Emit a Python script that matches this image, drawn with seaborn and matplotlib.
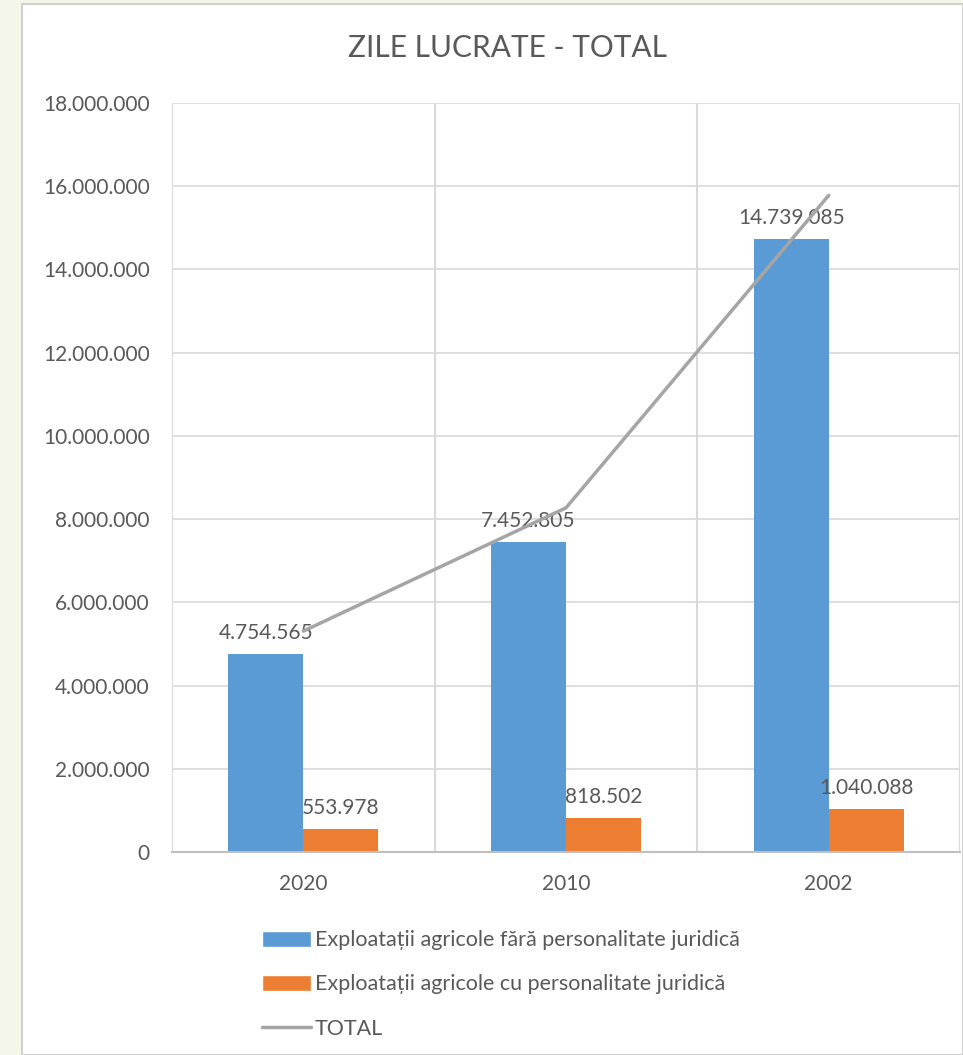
import matplotlib.pyplot as plt
import matplotlib.ticker as mticker
from matplotlib.patches import Rectangle, Patch
from matplotlib.lines import Line2D
import pandas as pd
import seaborn as sns

# data
ani = ['2020', '2010', '2002']
fara_pj = [4754565, 7452805, 14739085]
cu_pj = [553978, 818502, 1040088]
total = [5308543, 8271307, 15779173]
serii = ['Exploatații agricole fără personalitate juridică',
         'Exploatații agricole cu personalitate juridică']

culori = ['#5B9BD5', '#ED7D31']
gri = '#A5A5A5'
text_col = '#595959'

df = pd.DataFrame({
    'an': ani * 2,
    'valoare': fara_pj + cu_pj,
    'serie': [serii[0]] * 3 + [serii[1]] * 3,
})
df_total = pd.DataFrame({'an': ani, 'total': total})

sns.set_theme(style='white')
plt.rcParams['font.family'] = ['Lato', 'DejaVu Sans']

fig = plt.figure(figsize=(9.63, 10.55), dpi=100, facecolor='#F4F6E9')
# white chart area with light border
fig.patches.append(Rectangle((22 / 963, 0), 1 - 22 / 963, 1 - 4 / 1055,
                             transform=fig.transFigure, facecolor='white',
                             edgecolor='#D0D0D0', linewidth=1.5, zorder=-5))

ax = fig.add_axes([172 / 963, 1 - 852 / 1055, (960 - 172) / 963, (852 - 103) / 1055])
ax.set_facecolor('none')

sns.barplot(data=df, x='an', y='valoare', hue='serie', order=ani,
            hue_order=serii, palette=culori, width=0.57, gap=0,
            saturation=1, linewidth=0, ax=ax, legend=False, zorder=2)

for cont, cul in zip(ax.containers, culori):
    ax.bar_label(cont, labels=[f'{v:,.0f}'.replace(',', '.') for v in cont.datavalues],
                 padding=8, fontsize=15, color=text_col)

sns.pointplot(data=df_total, x='an', y='total', order=ani, color=gri,
              markers='', linestyles='-', errorbar=None, ax=ax,
              linewidth=2.5, zorder=3)

ax.set_ylim(0, 18000000)
ax.set_xlim(-0.5, 2.5)
ax.yaxis.set_major_locator(mticker.MultipleLocator(2000000))
ax.yaxis.set_major_formatter(mticker.FuncFormatter(lambda v, p: f'{v:,.0f}'.replace(',', '.')))
ax.set_xticks([-0.5, 0.5, 1.5, 2.5], minor=True)
ax.grid(axis='y', which='major', color='#D9D9D9', linewidth=1.2, zorder=0)
ax.grid(axis='x', which='minor', color='#D9D9D9', linewidth=1.5, zorder=0)
ax.set_axisbelow(True)
for s in ax.spines.values():
    s.set_visible(False)
ax.spines['bottom'].set_visible(True)
ax.spines['bottom'].set_color('#BFBFBF')
ax.spines['bottom'].set_linewidth(1.5)
ax.tick_params(axis='both', which='both', length=0, labelsize=15, colors=text_col)
ax.tick_params(axis='x', pad=16)
ax.tick_params(axis='y', pad=16)
ax.set_xlabel('')
ax.set_ylabel('')

fig.text(507 / 963, 1 - 48 / 1055, 'ZILE LUCRATE - TOTAL', ha='center', va='center',
         fontsize=21.5, color=text_col)

handles = [Patch(facecolor=culori[0]), Patch(facecolor=culori[1]),
           Line2D([], [], color=gri, linewidth=2.5)]
leg = fig.legend(handles, serii + ['TOTAL'], loc='upper left',
                 bbox_to_anchor=(243 / 963, 1 - 911 / 1055), frameon=False,
                 fontsize=15.5, labelcolor=text_col, handlelength=2.25,
                 handleheight=0.8, handletextpad=0.2, labelspacing=1.12)

fig.savefig('out.png', dpi=100, facecolor=fig.get_facecolor())
